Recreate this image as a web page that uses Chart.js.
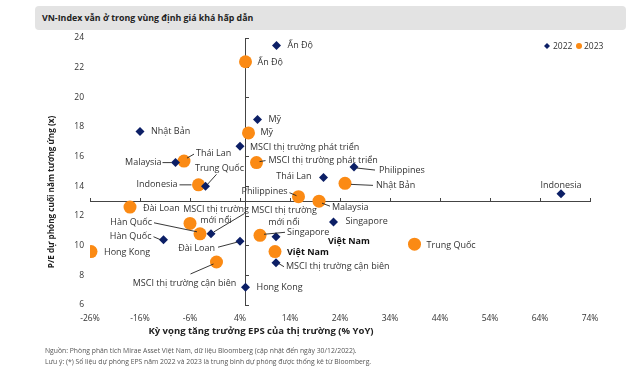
<!DOCTYPE html>
<html>
<head>
<meta charset="utf-8">
<script src="https://cdn.jsdelivr.net/npm/chart.js@4.4.0/dist/chart.umd.min.js"></script>
<style>
  html, body { margin: 0; padding: 0; background: #fff; }
  body { width: 630px; height: 368px; position: relative; overflow: hidden; font-family: 'Open Sans', sans-serif; }
  #chartBox { position: absolute; left: 0; top: 0; width: 630px; height: 368px; }
  #title { position: absolute; left: 35px; top: 6px; width: 591px; height: 24px; background: #e3e3e3; border-radius: 4px;
           font-weight: bold; font-size: 8.8px; line-height: 24px; padding-left: 7px; box-sizing: border-box; color: #222; }
  .note { position: absolute; left: 45px; font-size: 6.8px; color: #555; white-space: nowrap; }
</style>
</head>
<body>
<div id="chartBox"><canvas id="peChart"></canvas></div>
<div id="title">VN-Index vẫn ở trong vùng định giá khá hấp dẫn</div>
<div class="note" style="top:346px">Nguồn: Phòng phân tích Mirae Asset Việt Nam, dữ liệu Bloomberg (cập nhật đến ngày 30/12/2022).</div>
<div class="note" style="top:357px">Lưu ý: (*) Số liệu dự phóng EPS năm 2022 và 2023 là trung bình dự phóng được thống kê từ Bloomberg.</div>
<script>
// ticks
const xTicks = [-26, -16, -6, 4, 14, 24, 34, 44, 54, 64, 74];
const yTicks = [6, 8, 10, 12, 14, 16, 18, 20, 22, 24];

// 2022
const names2022 = ['Ấn Độ', 'Mỹ', 'MSCI thị trường phát triển', 'Nhật Bản', 'Malaysia', 'Trung Quốc', 'Hàn Quốc',
  ['MSCI thị trường', 'mới nổi'], 'Đài Loan', 'Hong Kong', 'Thái Lan', 'Philippines', 'Singapore', 'Việt Nam',
  'MSCI thị trường cận biên', 'Indonesia'];
const eps2022 = [11.3, 7.5, 4.0, -16, -8.9, -2.9, -11.3, -1.8, 4.0, 5.1, 20.7, 26.8, 22.7, 11.2, 11.2, 68.2];
const pe2022 = [23.5, 18.5, 16.7, 17.7, 15.6, 14.0, 10.4, 10.8, 10.3, 7.2, 14.6, 15.3, 11.6, 10.6, 8.85, 13.5];

// 2023
const names2023 = ['Ấn Độ', 'Mỹ', 'MSCI thị trường phát triển', 'Thái Lan', 'Indonesia', 'Đài Loan',
  ['MSCI thị trường', 'mới nổi'], 'Hàn Quốc', 'Hong Kong', 'MSCI thị trường cận biên', 'Singapore', 'Việt Nam',
  'Philippines', 'Malaysia', 'Nhật Bản', 'Trung Quốc'];
const eps2023 = [5.1, 5.7, 7.3, -7.2, -4.3, -18, -6, -4, -25.8, -0.7, 8, 11, 15.7, 19.8, 25, 38.9];
const pe2023 = [22.4, 17.6, 15.6, 15.7, 14.1, 12.6, 11.5, 10.8, 9.6, 8.9, 10.7, 9.6, 13.3, 13.0, 14.2, 10.1];

// label placement, offsets from the point in px: [dx, dy, align, leader line]
const place2022 = [
  [11, 0, 'left'], [11, 0, 'left'], [10, 1, 'left'], [11, 0, 'left'],
  [-14, 0, 'right', [-4, 0, -13, 0]], [14, -18, 'center', [2, -2, 11, -12]],
  [-12, -3, 'right', [-3, 0, -10, -3]], [73, -23, 'center', [3, -2, 33, -20]],
  [-25, 7, 'right', [-3, 1, -22, 6]], [11, 0, 'left'], [-12, -1, 'right'],
  [25, 3, 'left', [3, 1, 21, 3]], [12, 0, 'left'], [52, 5, 'left'],
  [10, 4, 'left', [3, 1, 8, 4]], [0, -8, 'center']
];
const place2023 = [
  [12, 1, 'left'], [12, 0, 'left'], [12, -2, 'left', [3, -1, 9, -2]],
  [12, -8, 'left', [3, -3, 10, -7]], [-21, 0, 'right', [-7, 0, -19, 0]], [13, 1, 'left'],
  [26, -14, 'center'], [-48, -11, 'right', [-3, -2, -46, -11]], [13, 1, 'left'],
  [-32, 21, 'center', [-3, 2, -26, 12]], [27, -3, 'left', [4, -1, 25, -3]], [12, 1, 'left'],
  [-11, -5, 'right', [-2, -1, -9, -4]], [13, 6, 'left', [3, 2, 11, 5]],
  [31, 2, 'left', [6, 1, 28, 2]], [12, 1, 'left']
];

const navy = '#0c1f66';
const orange = '#fb8a14';
const textCol = '#333';
const fontFam = "'Open Sans', sans-serif";
Chart.defaults.font.family = fontFam;

const labelPlugin = {
  id: 'pointLabels',
  afterDatasetsDraw(chart) {
    const ctx = chart.ctx;
    const sets = [[names2022, place2022], [names2023, place2023]];
    ctx.save();
    ctx.textBaseline = 'middle';
    sets.forEach(([names, place], di) => {
      chart.getDatasetMeta(di).data.forEach((pt, i) => {
        const [dx, dy, align, line] = place[i];
        if (line) {
          ctx.strokeStyle = '#222';
          ctx.lineWidth = 0.9;
          ctx.beginPath();
          ctx.moveTo(pt.x + line[0], pt.y + line[1]);
          ctx.lineTo(pt.x + line[2], pt.y + line[3]);
          ctx.stroke();
        }
        const name = names[i];
        const bold = name === 'Việt Nam';
        ctx.font = (bold ? 'bold ' : '') + '9px ' + fontFam;
        ctx.fillStyle = bold ? '#111' : textCol;
        ctx.textAlign = align;
        const lines = Array.isArray(name) ? name : [name];
        lines.forEach((t, k) => ctx.fillText(t, pt.x + dx, pt.y + dy + k * 11.5));
      });
    });

    // legend
    ctx.font = '8.5px ' + fontFam;
    ctx.textAlign = 'left';
    ctx.fillStyle = navy;
    ctx.beginPath();
    ctx.moveTo(547, 43); ctx.lineTo(550, 46); ctx.lineTo(547, 49); ctx.lineTo(544, 46);
    ctx.closePath(); ctx.fill();
    ctx.fillStyle = textCol;
    ctx.fillText('2022', 553, 46.5);
    ctx.fillStyle = orange;
    ctx.beginPath(); ctx.arc(579, 46, 3, 0, Math.PI * 2); ctx.fill();
    ctx.fillStyle = textCol;
    ctx.fillText('2023', 584, 46.5);

    // axis titles
    ctx.font = 'bold 9.5px ' + fontFam;
    ctx.fillStyle = '#222';
    ctx.textAlign = 'center';
    ctx.fillText('Kỳ vọng tăng trưởng EPS của thị trường (% YoY)', 261, 331);
    ctx.translate(52, 192);
    ctx.rotate(-Math.PI / 2);
    ctx.font = 'bold 8.2px ' + fontFam;
    ctx.fillText('P/E dự phóng cuối năm tương ứng (x)', 0, 0);
    ctx.restore();
  }
};

const setTicks = list => scale => { scale.ticks = list.map(v => ({value: v})); };

new Chart(document.getElementById('peChart'), {
  type: 'scatter',
  data: {
    datasets: [{
      label: '2022',
      data: eps2022.map((x, i) => ({x, y: pe2022[i]})),
      pointStyle: 'rectRot',
      pointRadius: 4.5,
      pointHoverRadius: 4.5,
      backgroundColor: navy,
      borderColor: navy,
      borderWidth: 0
    }, {
      label: '2023',
      data: eps2023.map((x, i) => ({x, y: pe2023[i]})),
      pointStyle: 'circle',
      pointRadius: 6.5,
      pointHoverRadius: 6.5,
      backgroundColor: orange,
      borderColor: orange,
      borderWidth: 0
    }]
  },
  options: {
    responsive: true,
    maintainAspectRatio: false,
    animation: false,
    layout: {padding: {left: 40, right: 40, top: 38, bottom: 38}},
    plugins: {legend: {display: false}, tooltip: {enabled: false}},
    scales: {
      x: {
        type: 'linear', position: 'bottom', min: -26, max: 74,
        afterBuildTicks: setTicks(xTicks),
        afterFit: s => { s.height = 25; },
        grid: {display: false, drawTicks: false}, border: {display: false},
        ticks: {autoSkip: false, maxRotation: 0, padding: 8, color: textCol, font: {size: 8.5},
                callback: v => v + '%'}
      },
      y: {
        type: 'linear', position: 'left', min: 6, max: 24,
        afterBuildTicks: setTicks(yTicks),
        afterFit: s => { s.width = 50; },
        grid: {display: false, drawTicks: false}, border: {display: false},
        ticks: {padding: 6, color: textCol, font: {size: 8.5}}
      },
      xAxisLine: {
        type: 'linear', position: {y: 13}, min: -26, max: 74,
        afterBuildTicks: setTicks(xTicks),
        grid: {display: true, drawOnChartArea: false, drawTicks: true, tickLength: -4, color: '#444'},
        border: {display: true, color: '#444', width: 1},
        ticks: {display: false}
      },
      yAxisLine: {
        type: 'linear', position: {x: 5}, min: 6, max: 24,
        afterBuildTicks: setTicks(yTicks),
        grid: {display: true, drawOnChartArea: false, drawTicks: true, tickLength: -4, color: '#444'},
        border: {display: true, color: '#444', width: 1},
        ticks: {display: false}
      }
    }
  },
  plugins: [labelPlugin]
});
</script>
</body>
</html>
